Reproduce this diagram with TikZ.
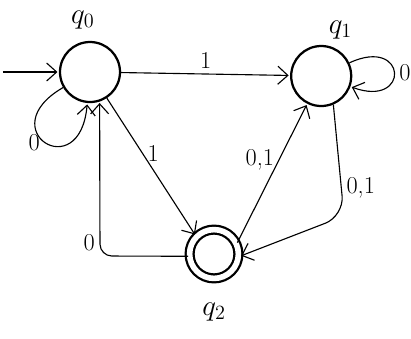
\documentclass[tikz,border=0pt]{standalone}
\usetikzlibrary{arrows.meta, automata, positioning}

\begin{document}
\begin{tikzpicture}[
        shorten >= 1pt, node distance = 4cm, on grid,
        >= {Straight Barb[length = 2.5mm, width = 4.5mm]},
        every state/.style = {draw = black, ultra thick, minimum size = 1.5cm},
        accepting by double/.append style = {double distance = 4pt, minimum size = 1.22cm},
        every initial by arrow/.style = {draw = black, thick},
        every edge/.style = {draw, thick},
        lbl/.style = {font = \LARGE},
        stname/.style = {font = \huge}
    ]
      \useasboundingbox (-2.25, 1.8) rectangle (8.025, -6.65);

      \node[state, initial, initial text = {}, initial distance = 1.4cm] (q0) at (0, 0) {};
      \node[state] (q1) [right = 5.78cm of q0, yshift = -0.1cm] {};
      \node[state, accepting] (q2) [below right = 4.55cm and 3.1cm of q0] {};

      \node[stname] (q0name) [above left = 1.3cm and 0.18cm of q0] {$q_0$};
      \node[stname] (q1name) [above right = 1.15cm and 0.48cm of q1] {$q_1$};
      \node[stname] (q2name) [below = 1.45cm of q2] {$q_2$};

      \coordinate (c0) at (0.25, -4.6);
      \coordinate (c1) at (6.35, -3.6);

      \path[->] (q0) edge node[lbl, above] {1} (q1)
                (q0) edge[out = 210, in = 265, min distance = 2.1cm] node[lbl, left] {0} (q0)
                (q1) edge[out = 25, in = -20, min distance = 1.6cm] node[lbl, right] {0} (q1)
                (q0) edge node[lbl, pos = 0.4, right] {1} (q2.135)
                (q2.26) edge node[lbl, pos = 0.6, left] {0,1} (q1);

      \draw[->, thick, rounded corners = 0.5cm] (q1.-67) -- node[lbl, pos = 0.75, right] {0,1} (c1) -- (q2.-5);
      \draw[->, thick, rounded corners = 0.3cm] (q2.185) -- (c0) node[lbl, above left] {0} -- (q0.-72);
    \end{tikzpicture}
\end{document}
